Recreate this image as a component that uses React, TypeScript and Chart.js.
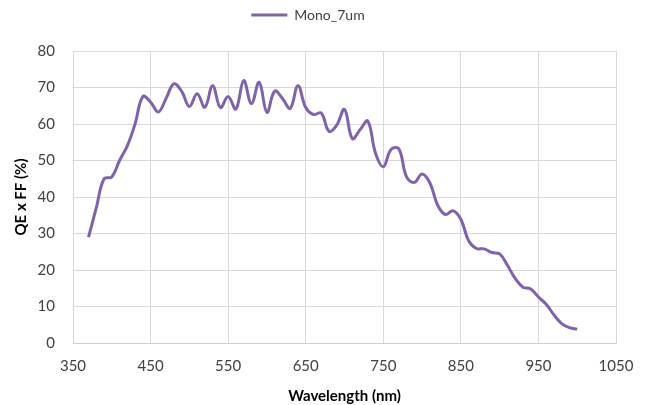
import React, { useEffect, useRef } from "react";
import { Chart, registerables, layouts } from "chart.js";

Chart.register(...registerables);

const wavelengths = [
  370, 380, 390, 400, 410, 420, 430, 440, 450, 460, 470, 480, 490, 500, 510, 520,
  530, 540, 550, 560, 570, 580, 590, 600, 610, 620, 630, 640, 650, 660, 670, 680,
  690, 700, 710, 720, 730, 740, 750, 760, 770, 780, 790, 800, 810, 820, 830, 840,
  850, 860, 870, 880, 890, 900, 910, 920, 930, 940, 950, 960, 970, 980, 990, 1000,
];

const mono7um = [
  29.0, 37.0, 45.0, 45.5, 50.0, 54.0, 60.0, 67.5, 66.0, 63.3, 67.0, 71.0, 69.0, 64.8, 68.3, 64.6,
  70.5, 64.5, 67.5, 64.1, 71.9, 65.6, 71.4, 63.2, 69.0, 67.0, 64.3, 70.5, 64.5, 62.6, 63.0, 58.0,
  59.7, 64.0, 56.0, 58.4, 60.8, 52.0, 48.3, 53.0, 53.2, 45.5, 44.0, 46.3, 43.9, 37.8, 35.2, 36.2,
  33.9, 28.0, 25.9, 25.8, 24.8, 24.4, 21.3, 17.7, 15.3, 14.8, 12.6, 10.6, 7.7, 5.3, 4.2, 3.8,
];

const seriesLabel = "Mono_7um";
const xTitle = "Wavelength (nm)";
const yTitle = "QE x FF (%)";

const FONT = "Lato, 'Liberation Sans', sans-serif";

const spacerPlugin = {
  id: "legendSpacer",
  beforeInit(chart: any) {
    const box: any = {
      position: "top",
      weight: 500,
      fullSize: true,
      options: {},
      width: 0,
      height: 0,
      left: 0,
      top: 0,
      right: 0,
      bottom: 0,
      isHorizontal() {
        return true;
      },
      update(maxWidth: number) {
        this.width = maxWidth;
        this.height = 19;
      },
      draw() {},
    };
    layouts.addBox(chart, box);
  },
};

export default function App() {
  const ref = useRef<HTMLCanvasElement | null>(null);

  useEffect(() => {
    document.body.style.margin = "0";
    const canvas = ref.current;
    if (!canvas) return;
    const chart = new Chart(canvas, {
      type: "line",
      data: {
        datasets: [
          {
            label: seriesLabel,
            data: wavelengths.map((w, i) => ({ x: w, y: mono7um[i] })),
            borderColor: "#7F63A8",
            backgroundColor: "#7F63A8",
            borderWidth: 3,
            pointRadius: 0,
            tension: 0.4,
            fill: false,
          },
        ],
      },
      plugins: [spacerPlugin],
      options: {
        animation: false,
        responsive: false,
        devicePixelRatio: 1,
        layout: { padding: { top: 0, left: 0, right: 32, bottom: 0 } },
        plugins: {
          legend: {
            display: true,
            position: "top",
            labels: {
              usePointStyle: true,
              pointStyle: "line",
              pointStyleWidth: 36,
              boxHeight: 3,
              color: "#404040",
              font: { family: FONT, size: 14 },
              padding: 8,
              generateLabels: (c: any) =>
                c.data.datasets.map((d: any, i: number) => ({
                  text: d.label,
                  strokeStyle: d.borderColor,
                  fillStyle: d.borderColor,
                  lineWidth: 3,
                  pointStyle: "line",
                  datasetIndex: i,
                  fontColor: "#404040",
                })),
            },
          },
          tooltip: { enabled: false },
        },
        scales: {
          x: {
            type: "linear",
            min: 350,
            max: 1050,
            ticks: {
              stepSize: 100,
              color: "#404040",
              font: { family: FONT, size: 15 },
              padding: 14,
              maxRotation: 0,
              callback: (v: any) => String(v),
            },
            grid: { color: "#d9d9d9", lineWidth: 1, drawTicks: false },
            border: { color: "#d0d0d0", width: 1 },
            title: {
              display: true,
              text: xTitle,
              color: "#000000",
              font: { family: FONT, size: 15, weight: "bold" },
              padding: { top: 5, bottom: 0 },
            },
            afterFit: (scale: any) => {
              scale.height = 62;
            },
          },
          y: {
            type: "linear",
            min: 0,
            max: 80,
            ticks: {
              stepSize: 10,
              color: "#404040",
              font: { family: FONT, size: 15 },
              padding: 18,
              callback: (v: any) => String(v),
            },
            grid: { color: "#d9d9d9", lineWidth: 1, drawTicks: false },
            border: { color: "#d9d9d9", width: 1 },
            title: {
              display: true,
              text: yTitle,
              color: "#000000",
              font: { family: FONT, size: 15, weight: "bold" },
              padding: { top: 12, bottom: 0 },
            },
            afterFit: (scale: any) => {
              scale.width = 73;
            },
          },
        },
      },
    });
    return () => chart.destroy();
  }, []);

  return (
    <div style={{ width: 648, height: 405, background: "#ffffff" }}>
      <canvas ref={ref} width={648} height={405} style={{ display: "block" }} />
    </div>
  );
}
